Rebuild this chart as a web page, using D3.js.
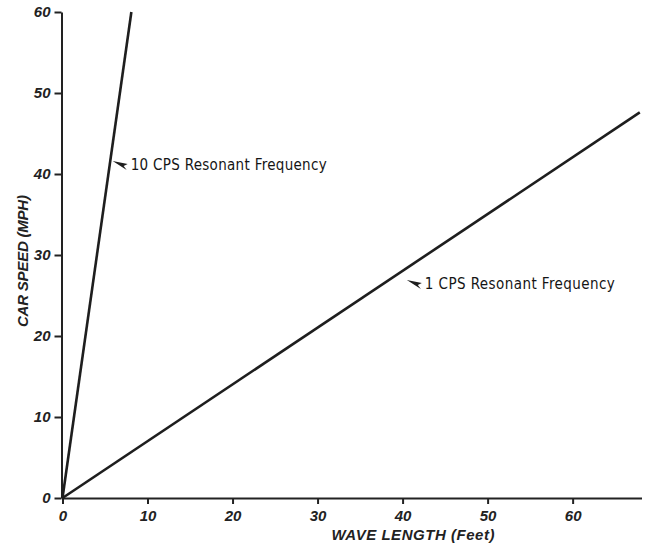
<!DOCTYPE html>
<html>
<head>
<meta charset="utf-8">
<script src="https://cdn.jsdelivr.net/npm/d3@7"></script>
<style>
  body { margin: 0; background: #fff; }
  svg { display: block; }
  .tick text { font-family: "Liberation Sans", Arial, sans-serif; font-weight: bold; font-style: italic; font-size: 15px; fill: #222; }
  .axis-title { font-family: "Liberation Sans", Arial, sans-serif; font-weight: bold; font-style: italic; font-size: 15px; fill: #222; }
  .note { font-family: "DejaVu Sans Condensed", "Liberation Sans", sans-serif; font-size: 15px; fill: #151515; }
</style>
</head>
<body>
<div id="chart"></div>
<script>
// Chart values
const xTicks = [0, 10, 20, 30, 40, 50, 60];
const yTicks = [0, 10, 20, 30, 40, 50, 60];
const tenCps = [[0, 0], [8.1, 60]];
const oneCps = [[0, 0], [67.9, 47.6]];
const labels = [
  { text: "10 CPS Resonant Frequency", at: [5.9, 41.6] },
  { text: "1 CPS Resonant Frequency", at: [40.5, 26.9] }
];

const width = 646, height = 546;

const svg = d3.select("#chart").append("svg")
  .attr("width", width)
  .attr("height", height);

const x = d3.scaleLinear().domain([0, 68.1]).range([62.5, 641.5]);
const y = d3.scaleLinear().domain([0, 60]).range([498, 12]);

// x axis
const xAxis = svg.append("g")
  .attr("transform", `translate(0,${y(0)})`)
  .call(d3.axisBottom(x).tickValues(xTicks).tickSize(6).tickPadding(6).tickSizeOuter(0));
xAxis.select(".domain").attr("stroke", "#222").attr("stroke-width", 2);
xAxis.selectAll(".tick line").attr("stroke", "#222").attr("stroke-width", 2);

// y axis
const yAxis = svg.append("g")
  .attr("transform", `translate(${x(0) - 1},0)`)
  .call(d3.axisLeft(y).tickValues(yTicks).tickSize(7).tickPadding(4).tickSizeOuter(0));
yAxis.select(".domain").attr("stroke", "#222").attr("stroke-width", 2);
yAxis.selectAll(".tick line").attr("stroke", "#222").attr("stroke-width", 2);

// axis titles
svg.append("text")
  .attr("class", "axis-title")
  .attr("x", 413)
  .attr("y", 540)
  .attr("text-anchor", "middle")
  .attr("textLength", 163)
  .text("WAVE LENGTH (Feet)");

svg.append("text")
  .attr("class", "axis-title")
  .attr("transform", `translate(28,261) rotate(-90)`)
  .attr("text-anchor", "middle")
  .attr("textLength", 132)
  .text("CAR SPEED  (MPH)");

// lines
const line = d3.line().x(d => x(d[0])).y(d => y(d[1]));
svg.selectAll(".series")
  .data([tenCps, oneCps])
  .join("path")
  .attr("class", "series")
  .attr("d", line)
  .attr("fill", "none")
  .attr("stroke", "#1e1e1e")
  .attr("stroke-width", 2.6);

// annotations with small arrowheads
const notes = svg.selectAll(".note-g")
  .data(labels)
  .join("g")
  .attr("class", "note-g")
  .attr("transform", d => `translate(${x(d.at[0])},${y(d.at[1])})`);

notes.append("path")
  .attr("d", "M0,0 L15,3 L11,5 L14,9 Z")
  .attr("fill", "#1e1e1e");

notes.append("text")
  .attr("class", "note")
  .attr("x", 18)
  .attr("y", 9)
  .attr("textLength", (d, i) => i === 0 ? 196 : 190)
  .text(d => d.text);
</script>
</body>
</html>
